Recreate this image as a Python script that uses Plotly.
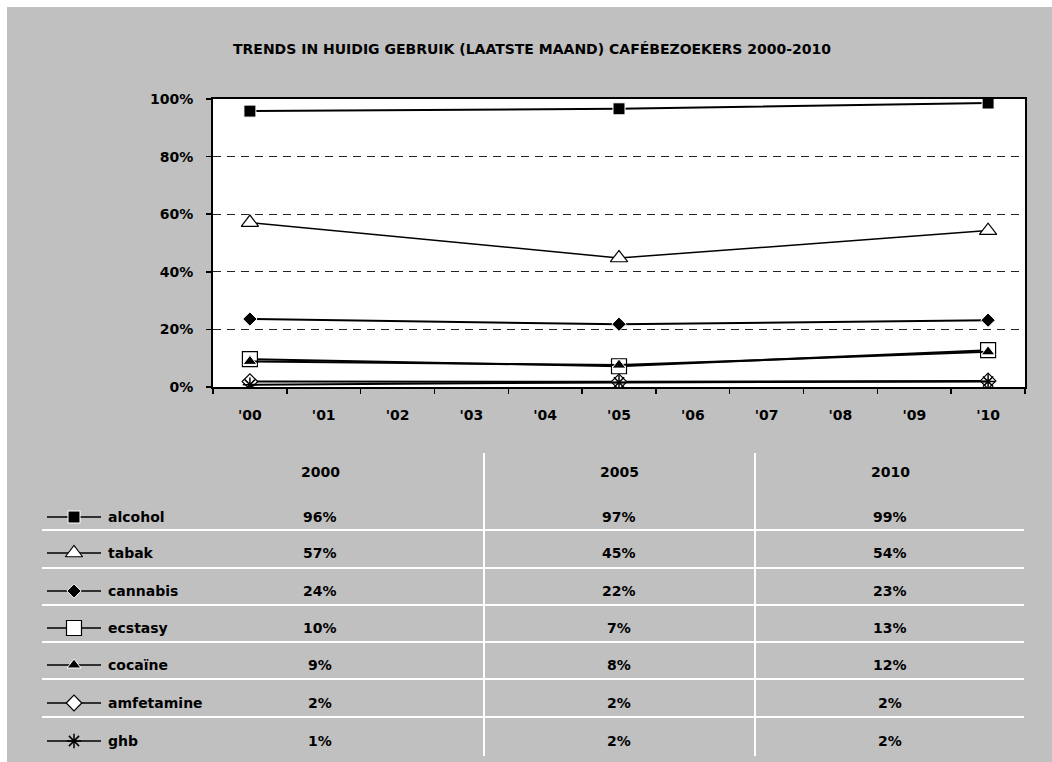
import plotly.graph_objects as go

W, H = 1052, 762

# ---- data ----
years = [0, 5, 10]
year_labels = ["2000", "2005", "2010"]
tick_vals = list(range(11))
tick_text = ["'00", "'01", "'02", "'03", "'04", "'05", "'06", "'07", "'08", "'09", "'10"]
y_ticks = [0, 20, 40, 60, 80, 100]

series_names = ["alcohol", "tabak", "cannabis", "ecstasy", "cocaïne", "amfetamine", "ghb"]
alcohol = [95.8, 96.6, 98.6]
tabak = [57.1, 44.8, 54.3]
cannabis = [23.6, 21.8, 23.2]
ecstasy = [9.7, 7.2, 12.8]
cocaine = [8.9, 7.6, 12.2]
amfetamine = [1.9, 1.8, 2.1]
ghb = [0.8, 1.6, 1.9]
series_values = [alcohol, tabak, cannabis, ecstasy, cocaine, amfetamine, ghb]

title = "TRENDS IN HUIDIG GEBRUIK (LAATSTE MAAND) CAFÉBEZOEKERS 2000-2010"

# ---- styles ----
FONT = "DejaVu Sans, sans-serif"
FS = 14
styles = [
    dict(symbol="square", size=12, color="black", line=dict(color="white", width=1)),
    dict(symbol="triangle-up", size=15, color="white", line=dict(color="black", width=1.2)),
    dict(symbol="diamond", size=11, color="black", line=dict(color="white", width=1)),
    dict(symbol="square", size=15, color="white", line=dict(color="black", width=1.2)),
    dict(symbol="triangle-up", size=12, color="black", line=dict(color="white", width=1)),
    dict(symbol="diamond", size=12, color="white", line=dict(color="black", width=1.2)),
    dict(symbol="asterisk-open", size=12, color="black", line=dict(color="black", width=1.5)),
]
line_widths = [2, 1.5, 2, 2, 2, 2, 2]

# plot rectangle (pixels)
L, R, T, B = 213, 1025, 99, 387

def px(x):
    return x / W

def py(y):
    return 1 - y / H

fig = go.Figure()

for name, vals, st, lw in zip(series_names, series_values, styles, line_widths):
    fig.add_trace(go.Scatter(
        x=years, y=vals, mode="lines+markers", name=name,
        line=dict(color="black", width=lw), marker=st,
        showlegend=False, xaxis="x", yaxis="y"))

# table geometry (pixels)
col_x = [320, 619, 890]
header_y = 472
row_y = [517, 553, 591, 628, 665, 703, 741]
sep_y = [530, 568, 605, 642, 679, 717]
vsep_x = [484, 755]

# legend keys drawn on a pixel overlay axis
for i, (name, st) in enumerate(zip(series_names, styles)):
    yk = row_y[i]
    fig.add_trace(go.Scatter(
        x=[47, 101], y=[yk, yk], mode="lines",
        line=dict(color="black", width=1.5), showlegend=False,
        xaxis="x2", yaxis="y2", hoverinfo="skip"))
    fig.add_trace(go.Scatter(
        x=[74], y=[yk], mode="markers", marker=st, showlegend=False,
        xaxis="x2", yaxis="y2", hoverinfo="skip"))

shapes = [
    dict(type="rect", xref="paper", yref="paper", x0=px(7), x1=1.01, y0=-0.01, y1=py(7),
         fillcolor="#c0c0c0", line=dict(width=0), layer="below"),
    dict(type="rect", xref="paper", yref="paper", x0=px(L), x1=px(R), y0=py(B), y1=py(T),
         fillcolor="white", line=dict(width=0), layer="below"),
]
for ys in sep_y:
    shapes.append(dict(type="line", xref="paper", yref="paper", x0=px(42), x1=px(1024),
                       y0=py(ys), y1=py(ys), line=dict(color="white", width=2), layer="below"))
for xs in vsep_x:
    shapes.append(dict(type="line", xref="paper", yref="paper", x0=px(xs), x1=px(xs),
                       y0=py(453), y1=py(756), line=dict(color="white", width=2), layer="below"))

def txt(s, x, y, anchor="center"):
    return dict(text="<b>" + s + "</b>", x=px(x), y=py(y), xref="paper", yref="paper",
                xanchor=anchor, yanchor="middle", showarrow=False,
                font=dict(size=FS, color="black", family=FONT))

annotations = [txt(title, 532, 49)]
for cx, lab in zip(col_x, year_labels):
    annotations.append(txt(lab, cx, header_y))
for i, (name, vals) in enumerate(zip(series_names, series_values)):
    annotations.append(txt(name, 106, row_y[i], "left"))
    for cx, v in zip(col_x, vals):
        annotations.append(txt("%d%%" % int(v + 0.5), cx, row_y[i]))

fig.update_layout(
    width=W, height=H,
    margin=dict(l=0, r=0, t=0, b=0),
    paper_bgcolor="white", plot_bgcolor="rgba(0,0,0,0)",
    font=dict(family=FONT, size=FS, color="black"),
    showlegend=False,
    xaxis=dict(domain=[px(L), px(R)], range=[-0.5, 10.5], tickvals=tick_vals,
               ticktext=["<b>%s</b>" % t for t in tick_text], ticks="", showgrid=False,
               showline=True, linecolor="black", linewidth=2, mirror=True,
               zeroline=False, automargin=False, ticklabelstandoff=14,
               minor=dict(tick0=-0.5, dtick=1, ticks="outside", ticklen=5,
                          tickcolor="black", tickwidth=1.5, showgrid=False),
               fixedrange=True),
    yaxis=dict(domain=[py(B), py(T)], range=[0, 100], tickvals=y_ticks,
               ticktext=["<b>%d%%</b>" % v for v in y_ticks],
               ticks="outside", ticklen=5, tickcolor="black", tickwidth=1.5,
               showgrid=True, gridcolor="#222", gridwidth=1, griddash="8px,6px",
               showline=True, linecolor="black", linewidth=2, mirror=True,
               zeroline=False, automargin=False, ticklabelstandoff=10, fixedrange=True),
    xaxis2=dict(domain=[0, 1], range=[0, W], visible=False, anchor="y2", fixedrange=True),
    yaxis2=dict(domain=[0, 1], range=[H, 0], visible=False, anchor="x2", fixedrange=True),
    shapes=shapes,
    annotations=annotations,
)

fig.write_html(
    "out.html",
    config={"displayModeBar": False, "staticPlot": True},
    post_script=("document.documentElement.style.margin='0';"
                 "document.body.style.margin='0';"
                 "document.documentElement.style.overflow='hidden';"
                 "document.body.style.overflow='hidden';"),
)
